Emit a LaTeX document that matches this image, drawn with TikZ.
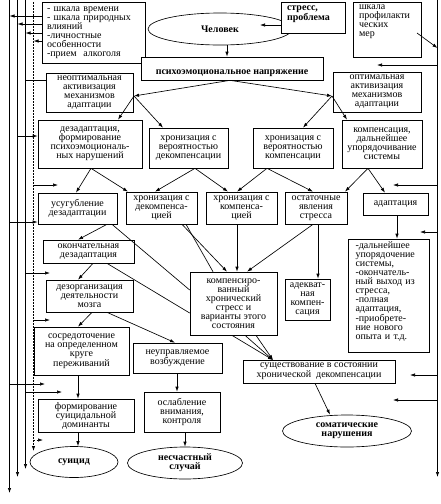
\documentclass[tikz,border=0pt]{standalone}
\usepackage{fontspec}
\setmainfont{Liberation Serif}
\usetikzlibrary{arrows.meta,shapes.geometric,calc}
\newcommand\fs{\fontsize{10}{9}\selectfont}
\begin{document}
\begin{tikzpicture}[x=1pt,y=-1pt, line width=0.65pt,
  box/.style={draw, inner sep=0pt, align=center, font=\fs, fill=white},
  lbox/.style={box, align=left},
  bb/.style n args={4}{at={({(#1+#3)/2},{(#2+#4)/2})}, minimum width={(#3-#1)*1pt}, minimum height={(#4-#2)*1pt}},
  oval/.style={draw, ellipse, inner sep=0pt, align=center, font=\fs\bfseries, fill=white},
  arr/.style={-{Latex[length=5pt,width=3.4pt]}},
  dot/.style={dash pattern=on 1.6pt off 1.4pt}]
\useasboundingbox (0,0) rectangle (440,504);

% left vertical lines
\coordinate (L1a) at (9.5,0);  \coordinate (L1b) at (9.5,493);
\coordinate (L2a) at (17.5,0); \coordinate (L2b) at (17.5,477);
\coordinate (L3a) at (25.5,0); \coordinate (L3b) at (25.5,469);
\coordinate (LDa) at (33.5,2); \coordinate (LDb) at (33.5,451);
\coordinate (Ra) at (437.5,0); \coordinate (Rb) at (437.5,477);
\draw[arr] (L1a) -- (L1b);
\draw[arr] (L2a) -- (L2b);
\draw[arr] (L3a) -- (L3b);
\draw[arr,dot] (LDa) -- (LDb);
\draw[arr] (Ra) -- (Rb);

% top nodes
\node[oval, minimum width=144pt, minimum height=32pt] (chel) at (220,29) {Человек};
\node[lbox, text width=93pt, bb={42}{2}{145}{63}] (scaleT) {- шкала времени\\- шкала природных\\влияний\\-личностные\\особенности\\-прием\ \ алкоголя};
\node[lbox, font=\fs\bfseries, text width=52pt, bb={281}{2}{345}{33}] (stress) {стресс,\\проблема\\\mbox{}};
\node[lbox, text width=56pt, bb={353}{2}{421}{57}] (prof) {шкала\\профилакти\\ческих\\мер\\\mbox{}\\\mbox{}};
\node[box, font=\fs\bfseries, bb={141}{57}{323}{80}] (psy) {\rule{0pt}{15pt}психоэмоциональное напряжение};
\node[box, bb={46}{73}{133}{112}] (neopt) {неоптимальная\\активизация\\механизмов\\адаптации};
\node[box, bb={333}{72}{421}{112}] (opt) {оптимальная\\активизация\\механизмов\\адаптации};

% row 3
\node[box, bb={38}{120}{142}{168}] (dezad) {дезадаптация,\\формирование\\психоэмоциональ-\\ных нарушений};
\node[box, bb={149}{128}{228}{168}] (chrdec) {хронизация с\\вероятностью\\декомпенсации};
\node[box, bb={253}{128}{333}{168}] (chrcomp) {хронизация с\\вероятностью\\компенсации};
\node[box, bb={342}{120}{422}{168}] (comp) {компенсация,\\дальнейшее\\упорядочивание\\системы};

% row 4
\node[box, bb={38}{193}{117}{224}] (usug) {усугубление\\дезадаптации};
\node[box, bb={126}{192}{197}{224}] (chrdecB) {хронизация с\\декомпенса-\\цией};
\node[box, bb={206}{192}{277}{224}] (chrcompB) {хронизация с\\компенса-\\цией};
\node[box, bb={285}{192}{347}{224}] (ost) {остаточные\\явления\\стресса};
\node[box, bb={363}{193}{428}{215}] (adapt) {адаптация};

% lower rows
\node[box, bb={43}{240}{134}{263}] (okon) {окончательная\\дезадаптация};
\node[box, bb={190}{272}{277}{335}] (kchr) {компенсиро-\\ванный\\хронический\\стресс и\\варианты этого\\состояния};
\node[box, bb={285}{279}{330}{320}] (adekv) {адекват-\\ная\\компен-\\сация};
\node[lbox, text width=66pt, bb={348}{239}{429}{352}] (daln) {-дальнейшее\\упорядочение\\системы,\\-окончатель-\\ный выход из\\стресса,\\-полная\\адаптация,\\-приобрете-\\ние нового\\опыта и т.д.\\\mbox{}};
\node[box, bb={46}{280}{133}{312}] (dezorg) {дезорганизация\\деятельности\\мозга};
\node[box, bb={34}{327}{129}{375}] (sosr) {сосредоточение\\на определенном\\круге\\переживаний};
\node[box, bb={133}{343}{222}{373}] (neupr) {неуправляемое\\возбуждение};
\node[box, bb={243}{360}{395}{383}] (sush) {существование в состоянии\\хронической\ \ декомпенсации};
\node[box, bb={38}{399}{134}{432}] (form) {формирование\\суицидальной\\доминанты};
\node[box, bb={144}{392}{220}{432}] (oslab) {ослабление\\внимания,\\контроля};
\node[oval, minimum width=129pt, minimum height=32pt] (somat) at (347,431) {соматические\\нарушения};
\node[oval, minimum width=88pt, minimum height=31pt] (suic) at (74,462) {суицид};
\node[oval, minimum width=115pt, minimum height=32pt] (nesch) at (185,463) {несчастный\\случай};

% top arrows from scale box into the lines
\draw[arr] (scaleT.west |- 0,16) -- (L1a |- 0,16);
\draw[arr] (scaleT.west |- 0,24) -- (L2a |- 0,24);
\draw[arr] (scaleT.west |- 0,33) -- (L3a |- 0,33);
\draw[arr] (scaleT.west |- 0,41) -- (LDa |- 0,41);

% from lines into boxes
\draw (L3a |- 0,80) -- (neopt.west |- 0,80);
\draw[arr] (L2a |- 0,136) -- (dezad.west |- 0,136);
\coordinate (f185) at (58,185);
\draw[arr] (LDa |- f185) -- (f185);
\draw[arr] (L1a |- 0,222) -- (usug.west |- 0,222);
\coordinate (f273) at (50,273);
\draw[arr] (L3a |- f273) -- (f273);
\coordinate (f320) at (50,320);
\draw[arr] (LDa |- f320) -- (f320);
\coordinate (f384) at (45,384);
\draw[arr] (L1a |- f384) -- (f384);
\coordinate (f392) at (62,392);
\draw[arr] (L3a |- f392) -- (f392);
\coordinate (f440) at (43,440);
\draw[arr,dot] (LDa |- f440) -- (f440);

% right line
\coordinate (r65) at (377,65);
\draw[arr] (Ra |- r65) -- (r65);
\coordinate (r185) at (393,185);
\draw[arr] (Ra |- r185) -- (r185);
\coordinate (r232) at (420,232);
\draw[arr] (Ra |- r232) -- (r232);
\coordinate (r375) at (410,375);
\draw[arr] (Ra |- r375) -- (r375);
\coordinate (r400) at (393,400);
\draw[arr] (Ra |- r400) -- (r400);
\coordinate (pr) at (417,33);
\draw[arr] (pr) -- (Ra |- 0,48);

% top connections
\coordinate (chelin) at (260,25);
\draw[arr] (stress.west |- chelin) -- (chelin);
\draw[arr] (chel.south -| 227,0) -- (psy.north -| 227,0);
\coordinate (J1) at (134,96);
\coordinate (J2) at (332,96);
\draw[arr] (psy.south -| 230,0) -- (J1);
\draw[arr] (psy.south -| 230,0) -- (J2);
\draw[arr] (J1) -- (dezad.north -| 118,0);
\draw[arr] (J1) -- (chrdec.north -| 163,0);
\draw[arr] (J2) -- (chrcomp.north -| 303,0);
\draw[arr] (J2) -- (comp.north -| 347,0);

% row 3 -> row 4
\draw[arr] (dezad.south -| 91,0) -- (usug.north -| 76,0);
\draw[arr] (dezad.south -| 91,0) -- (chrdecB.north -| 128,0);
\draw[arr] (chrdec.south -| 195,0) -- (chrdecB.north -| 155,0);
\draw[arr] (chrdec.south -| 195,0) -- (chrcompB.north -| 228,0);
\draw[arr] (chrcomp.south -| 267,0) -- (chrcompB.north -| 237,0);
\draw[arr] (chrcomp.south -| 267,0) -- (ost.north -| 313,0);
\draw[arr] (comp.south -| 368,0) -- (ost.north -| 345,0);
\draw[arr] (comp.south -| 368,0) -- (adapt.north -| 385,0);
\draw[arr] (adapt.south -| 397,0) -- (daln.north -| 397,0);

% left chain
\draw[arr] (usug.south -| 107,0) -- (okon.north -| 78,0);
\draw (usug.south -| 112,0) -- (kchr.west |- 0,290);
\draw[arr] (okon.south -| 93,0) -- (dezorg.north -| 78,0);
\draw (okon.south -| 107,0) -- (kchr.west |- 0,313);
\draw[arr] (dezorg.south -| 92,0) -- (sosr.north -| 78,0);
\draw[arr] (dezorg.south -| 107,0) -- (neupr.north -| 175,0);

% into compensated chronic stress
\draw[arr] (chrdecB.south -| 182,0) -- (kchr.north -| 227,0);
\draw (chrdecB.south -| 186,0) -- (kchr.north -| 213,0);
\draw[arr] (chrcompB.south -| 237,0) -- (kchr.north -| 237,0);
\draw[arr] (ost.south -| 313,0) -- (kchr.north -| 247,0);
\draw[arr] (ost.south -| 318,0) -- (adekv.north -| 318,0);

% to existence
\coordinate (sushin) at (273,360);
\draw[arr] (kchr.south -| 232,0) -- (sushin);
\draw[arr] (kchr.south -| 245,0) -- (sushin);
\draw[arr] (kchr.south -| 256,0) -- (sushin);
\draw[arr] (sush.south -| 315,0) -- (somat.north -| 330,0);

% bottom chain
\draw[arr] (sosr.south -| 78,0) -- (form.north -| 78,0);
\draw[arr] (form.south -| 78,0) -- (suic.north -| 78,0);
\draw[arr] (neupr.south -| 177,0) -- (oslab.north -| 177,0);
\draw[arr] (oslab.south -| 185,0) -- (nesch.north -| 185,0);
\end{tikzpicture}
\end{document}
